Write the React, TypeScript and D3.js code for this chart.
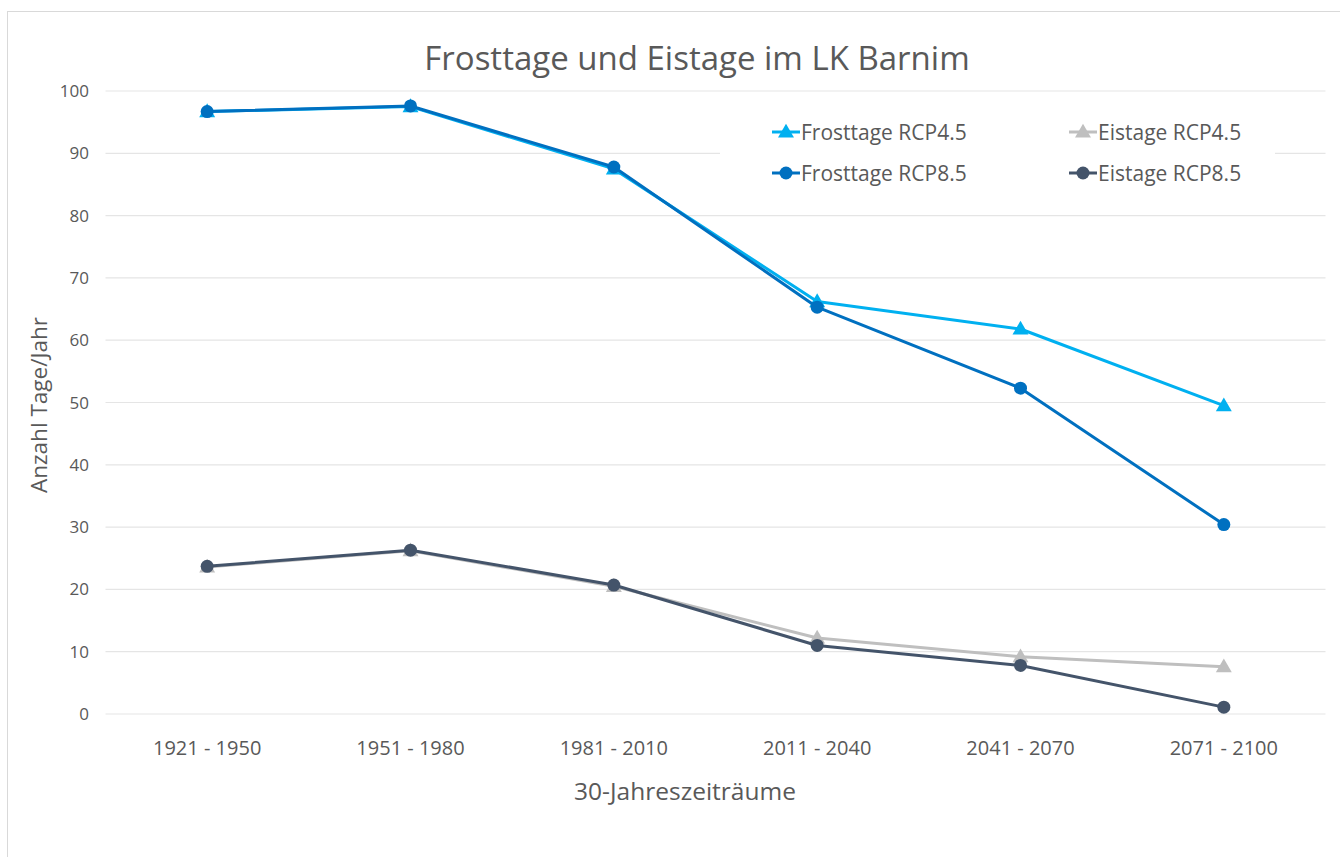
import React from "react";
import * as d3 from "d3";

const categories = ["1921 - 1950", "1951 - 1980", "1981 - 2010", "2011 - 2040", "2041 - 2070", "2071 - 2100"];
const frostRCP45 = [96.7, 97.5, 87.5, 66.2, 61.8, 49.5];
const frostRCP85 = [96.7, 97.6, 87.8, 65.3, 52.3, 30.4];
const eisRCP45 = [23.6, 26.2, 20.5, 12.2, 9.2, 7.6];
const eisRCP85 = [23.7, 26.3, 20.7, 11.0, 7.8, 1.1];
const yTicks = [0, 10, 20, 30, 40, 50, 60, 70, 80, 90, 100];

const seriesList = [
  { name: "Eistage RCP4.5", values: eisRCP45, color: "#BFBFBF", marker: "triangle" },
  { name: "Eistage RCP8.5", values: eisRCP85, color: "#44546A", marker: "circle" },
  { name: "Frosttage RCP4.5", values: frostRCP45, color: "#00B0F0", marker: "triangle" },
  { name: "Frosttage RCP8.5", values: frostRCP85, color: "#0070C0", marker: "circle" },
];

const legendItems = [
  { name: "Frosttage RCP4.5", color: "#00B0F0", marker: "triangle", col: 0, row: 0 },
  { name: "Eistage RCP4.5", color: "#BFBFBF", marker: "triangle", col: 1, row: 0 },
  { name: "Frosttage RCP8.5", color: "#0070C0", marker: "circle", col: 0, row: 1 },
  { name: "Eistage RCP8.5", color: "#44546A", marker: "circle", col: 1, row: 1 },
];

const FONT = "'Open Sans', 'Noto Sans', sans-serif";
const TEXT = "#595959";

function Marker({ type, x, y, color }: { type: string; x: number; y: number; color: string }) {
  if (type === "circle") return <circle cx={x} cy={y} r={6.5} fill={color} />;
  const s = d3.symbol(d3.symbolTriangle, 110)();
  return <path d={s as string} transform={`translate(${x},${y + 1})`} fill={color} />;
}

export default function App() {
  const left = 105.5, right = 1325.5, top = 91, bottom = 714;
  const x = d3.scalePoint<string>().domain(categories).range([left, right]).padding(0.5);
  const y = d3.scaleLinear().domain([0, 100]).range([bottom, top]);
  const line = d3.line<number>().x((_, i) => x(categories[i]) as number).y((d) => y(d));

  return (
    <svg width={1340} height={857} style={{ position: "absolute", left: 0, top: 0, background: "#fff" }}>
      <rect x={7.5} y={11.5} width={1340} height={860} fill="#fff" stroke="#D9D9D9" strokeWidth={1} />
      <text x={697} y={70} textAnchor="middle" fontFamily={FONT} fontSize={33} fill={TEXT}>
        Frosttage und Eistage im LK Barnim
      </text>
      {yTicks.map((t) => (
        <g key={t}>
          <line x1={left} x2={right} y1={y(t)} y2={y(t)} stroke="#E5E5E5" strokeWidth={1.2} />
          <text x={89} y={y(t) + 6} textAnchor="end" fontFamily={FONT} fontSize={17} fill={TEXT}>
            {t}
          </text>
        </g>
      ))}
      {/* legend background */}
      <rect x={720} y={100} width={555} height={100} fill="#fff" />
      {categories.map((c) => (
        <text key={c} x={x(c)} y={755} textAnchor="middle" fontFamily={FONT} fontSize={20} fill={TEXT}>
          {c}
        </text>
      ))}
      <text x={685} y={800} textAnchor="middle" fontFamily={FONT} fontSize={24.5} fill={TEXT}>
        30-Jahreszeiträume
      </text>
      <text
        transform={`translate(47,405) rotate(-90)`}
        textAnchor="middle"
        fontFamily={FONT}
        fontSize={22.5}
        fill={TEXT}
      >
        Anzahl Tage/Jahr
      </text>
      {seriesList.map((s) => (
        <g key={s.name}>
          <path d={line(s.values) as string} fill="none" stroke={s.color} strokeWidth={3} strokeLinejoin="round" />
          {s.values.map((v, i) => (
            <Marker key={i} type={s.marker} x={x(categories[i]) as number} y={y(v)} color={s.color} />
          ))}
        </g>
      ))}
      {legendItems.map((l) => {
        const lx = l.col === 0 ? 772 : 1069;
        const ly = l.row === 0 ? 132 : 173;
        return (
          <g key={l.name}>
            <line x1={lx} x2={lx + 28} y1={ly} y2={ly} stroke={l.color} strokeWidth={3} />
            <Marker type={l.marker} x={lx + 14} y={ly} color={l.color} />
            <text x={lx + 29} y={ly + 7.5} fontFamily={FONT} fontSize={21} fill={TEXT}>
              {l.name}
            </text>
          </g>
        );
      })}
    </svg>
  );
}
